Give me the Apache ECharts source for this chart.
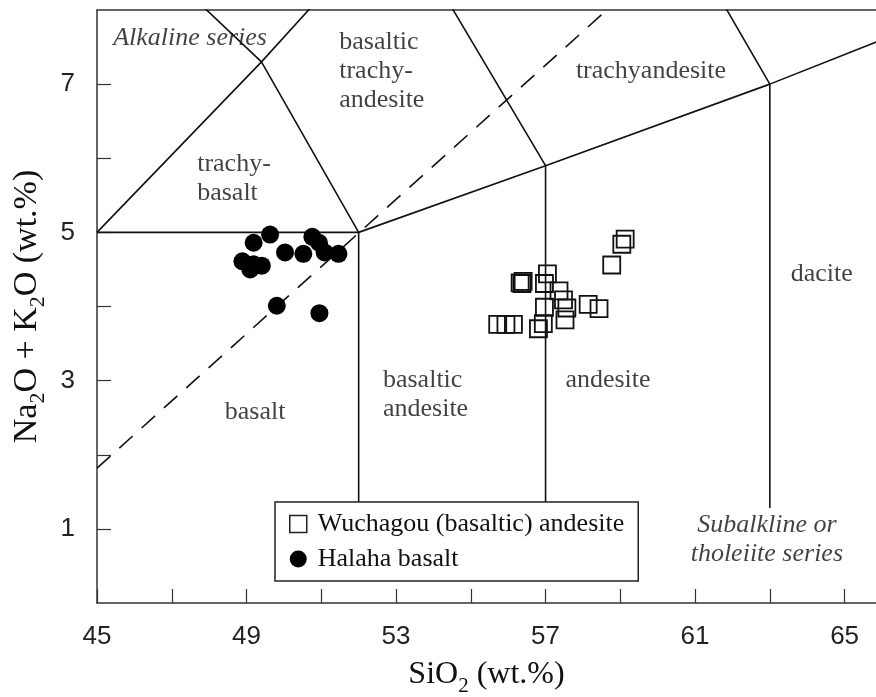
<!DOCTYPE html>
<html>
<head>
<meta charset="utf-8">
<script src="https://cdn.jsdelivr.net/npm/echarts@6/dist/echarts.min.js"></script>
<style>
  html, body { margin: 0; padding: 0; background: #fff; }
  #chart { width: 876px; height: 697px; }
</style>
</head>
<body>
<div id="chart"></div>
<script>
// axis ticks / labels
const xTicks = [45, 47, 49, 51, 53, 55, 57, 59, 61, 63, 65];
const xLabels = [45, 49, 53, 57, 61, 65];
const yTicks = [1, 2, 3, 4, 5, 6, 7];
const yLabels = [1, 3, 5, 7];

// Wuchagou (basaltic) andesite
const wuchagouSiO2 = [59.13, 59.04, 58.77, 56.32, 56.37, 56.40, 57.05, 56.97, 57.36, 57.48,
  57.57, 56.97, 58.14, 58.43, 57.52, 55.72, 55.94, 56.14, 56.81, 56.94];
const wuchagouAlk = [4.91, 4.84, 4.56, 4.32, 4.31, 4.34, 4.44, 4.31, 4.21, 4.09,
  3.98, 3.99, 4.03, 3.97, 3.82, 3.76, 3.76, 3.76, 3.70, 3.77];

// Halaha basalt
const halahaSiO2 = [49.63, 49.19, 50.76, 50.94, 50.03, 50.52, 51.09, 51.46, 48.89, 49.19,
  49.41, 49.10, 49.81, 50.95];
const halahaAlk = [4.97, 4.86, 4.94, 4.86, 4.73, 4.71, 4.73, 4.71, 4.61, 4.57,
  4.55, 4.50, 4.01, 3.91];

// TAS field boundaries
const boundaries = [
  [[45, 5], [52, 5], [57, 5.9], [63, 7], [69, 8.2]],
  [[45, 5], [49.4, 7.3], [53, 9.3]],
  [[52, 1], [52, 5], [49.4, 7.3], [45, 9.4]],
  [[57, 1], [57, 5.9], [53, 9.3]],
  [[63, 1.28], [63, 7], [57.6, 11.7]]
];
const alkalineDivide = [[45, 1.82], [58.64, 8]];

// field names
const fieldNames = ['Alkaline series', 'basaltic\ntrachy-\nandesite', 'trachyandesite',
  'trachy-\nbasalt', 'basalt', 'basaltic\nandesite', 'andesite', 'dacite',
  'Subalkline or\ntholeiite series'];
const fieldX = [47.49, 51.48, 59.82, 47.68, 49.23, 52.65, 58.67, 64.39, 62.92];
const fieldY = [7.62, 7.18, 7.18, 5.72, 2.57, 2.81, 3.01, 4.43, 0.86];
const leftAligned = ['basaltic\ntrachy-\nandesite', 'trachy-\nbasalt', 'basaltic\nandesite'];
const italicNames = ['Alkaline series', 'Subalkline or\ntholeiite series'];

const serif = '"Liberation Serif", "Times New Roman", serif';
const sans = '"Liberation Sans", Arial, sans-serif';

function subRich(size) {
  return {
    n: { fontFamily: serif, fontSize: size, color: '#111', lineHeight: size + 12 },
    s: { fontFamily: serif, fontSize: Math.round(size * 0.66), color: '#111',
      lineHeight: Math.round(size * 0.66), verticalAlign: 'bottom' }
  };
}

const chart = echarts.init(document.getElementById('chart'));

const series = [];
boundaries.forEach(function (pts) {
  series.push({
    type: 'line', data: pts, symbol: 'none', silent: true, z: 1,
    lineStyle: { color: '#111', width: 1.6 }
  });
});
series.push({
  type: 'line', data: alkalineDivide, symbol: 'none', silent: true, z: 1,
  lineStyle: { color: '#111', width: 1.6, type: [18, 12] }
});
series.push({
  type: 'scatter', silent: true, symbolSize: 0, z: 3,
  data: fieldNames.map(function (n, i) {
    return {
      value: [fieldX[i], fieldY[i]], name: n,
      label: {
        align: leftAligned.indexOf(n) >= 0 ? 'left' : 'center',
        fontStyle: italicNames.indexOf(n) >= 0 ? 'italic' : 'normal'
      }
    };
  }),
  label: {
    show: true, position: 'inside', formatter: '{b}',
    fontFamily: serif, fontSize: 26, color: '#111', lineHeight: 29
  }
});
series.push({
  name: 'Wuchagou (basaltic) andesite', type: 'scatter', symbol: 'rect', symbolSize: 17, z: 5,
  data: wuchagouSiO2.map(function (v, i) { return [v, wuchagouAlk[i]]; }),
  itemStyle: { color: 'rgba(255,255,255,0)', borderColor: '#111', borderWidth: 1.8, opacity: 1 }
});
series.push({
  name: 'Halaha basalt', type: 'scatter', symbol: 'circle', symbolSize: 18, z: 5,
  data: halahaSiO2.map(function (v, i) { return [v, halahaAlk[i]]; }),
  itemStyle: { color: '#000', opacity: 1 }
});

const option = {
  animation: false,
  backgroundColor: '#fff',
  grid: { left: 97, top: 10, right: 0, bottom: 94, outerBoundsMode: 'none', containLabel: false },
  legend: {
    orient: 'vertical', left: 275, top: 502,
    backgroundColor: '#fff', borderColor: '#222', borderWidth: 1.5, borderRadius: 0,
    padding: [9, 14, 9, 14], itemGap: 9, itemWidth: 17, itemHeight: 17,
    textStyle: { fontFamily: serif, fontSize: 26, color: '#111', padding: [0, 0, 0, 6] },
    data: [
      { name: 'Wuchagou (basaltic) andesite', itemStyle: { color: '#fff', borderColor: '#222', borderWidth: 1.5 } },
      { name: 'Halaha basalt' }
    ]
  },
  xAxis: [{
    type: 'value', min: 45, max: 65.84,
    name: '{n|SiO}{s|2}{n| (wt.%)}', nameLocation: 'middle', nameGap: 50,
    nameTextStyle: { rich: subRich(32) },
    axisLine: { lineStyle: { color: '#333', width: 1.5 } },
    axisTick: { inside: true, length: 14, customValues: xTicks, lineStyle: { color: '#333', width: 1.2 } },
    axisLabel: { customValues: xLabels, fontFamily: sans, fontSize: 26, color: '#222', margin: 21 },
    splitLine: { show: false }
  }, {
    type: 'value', position: 'top', min: 45, max: 65.84,
    axisLine: { show: true, lineStyle: { color: '#333', width: 1.5 } },
    axisTick: { show: false }, axisLabel: { show: false }, splitLine: { show: false }
  }],
  yAxis: {
    type: 'value', min: 0, max: 8,
    name: '{n|Na}{s|2}{n|O + K}{s|2}{n|O (wt.%)}', nameLocation: 'middle', nameGap: 46,
    nameTextStyle: { rich: subRich(34) },
    axisLine: { show: true, lineStyle: { color: '#333', width: 1.5 } },
    axisTick: { inside: true, length: 14, customValues: yTicks, lineStyle: { color: '#333', width: 1.2 } },
    axisLabel: { customValues: yLabels, fontFamily: sans, fontSize: 26, color: '#222', margin: 22 },
    splitLine: { show: false }
  },
  series: series
};

chart.setOption(option);
</script>
</body>
</html>
